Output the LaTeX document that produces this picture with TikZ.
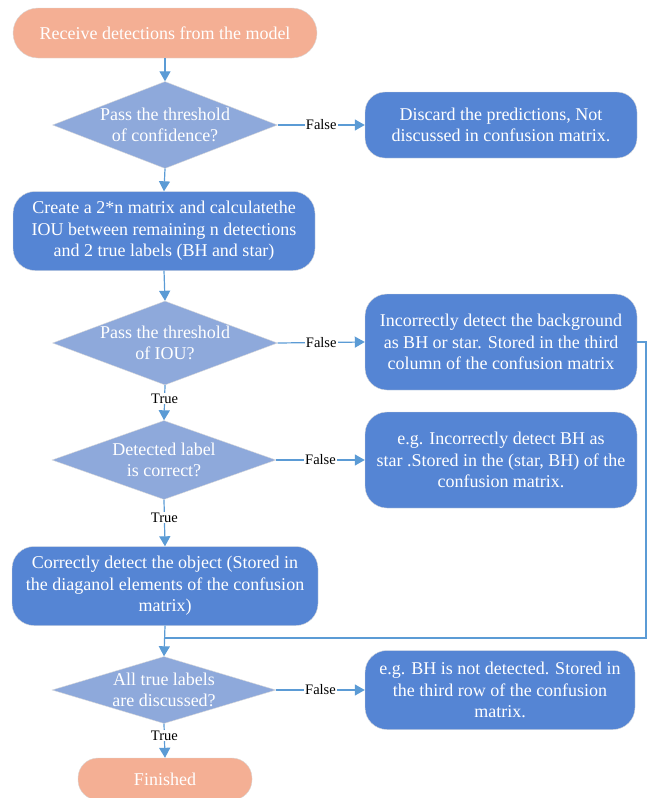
\documentclass[tikz,border=0pt]{standalone}
\usepackage{fontspec}
\setmainfont{Liberation Serif}
\usetikzlibrary{shapes.geometric,arrows.meta}
\definecolor{salmon}{HTML}{F4AF94}
\definecolor{diablue}{HTML}{8EA9DB}
\definecolor{boxblue}{HTML}{5585D4}
\definecolor{arrowblue}{HTML}{5B9BD5}
\tikzset{
  term/.style={fill=salmon, draw=white!85!black, line width=0.4pt, text=white, align=center, font=\fontsize{18}{21.6}\selectfont, inner sep=0pt},
  proc/.style={fill=boxblue, draw=white!85!black, line width=0.4pt, rounded corners=22pt, text=white, align=center, font=\fontsize{18}{21.6}\selectfont, inner sep=0pt},
  dia/.style={diamond, fill=diablue, draw=white!85!black, line width=0.4pt, inner sep=0pt},
  diatext/.style={text=white, align=center, font=\fontsize{18}{20.5}\selectfont, inner sep=0pt},
  conn/.style={draw=arrowblue, line width=1.2pt, -{Triangle[length=10pt,width=11pt]}},
  line/.style={draw=arrowblue, line width=1.2pt},
  lab/.style={fill=white, text=black, font=\fontsize{14.5}{16}\selectfont, inner sep=1pt},
}
\begin{document}
\begin{tikzpicture}[x=1pt,y=-1pt]
\useasboundingbox (0,0) rectangle (647,798);

\node[term, minimum width=304pt, minimum height=50pt, rounded corners=25pt] (start) at (165,33) {Receive detections from the model};

\node[dia, minimum width=225pt, minimum height=87pt] (d1) at (165,125) {};
\node[diatext] (d1t) at (d1.center) {Pass the threshold\\of confidence?};

\node[proc, minimum width=272pt, minimum height=66pt, rounded corners=20pt] (discard) at (501,125) {Discard the predictions, Not\\discussed in confusion matrix.};

\node[proc, minimum width=302pt, minimum height=79pt] (create) at (164,231) {Create a 2*n matrix and calculatethe\\IOU between remaining n detections\\and 2 true labels (BH and star)};

\node[dia, minimum width=225pt, minimum height=84pt] (d2) at (165,343) {};
\node[diatext] (d2t) at (d2.center) {Pass the threshold\\of IOU?};

\node[proc, minimum width=272pt, minimum height=96pt] (bg) at (501,342) {Incorrectly detect the background\\as BH or star. Stored in the third\\column of the confusion matrix};

\node[dia, minimum width=224pt, minimum height=79pt] (d3) at (164,460) {};
\node[diatext] (d3t) at (d3.center) {Detected label\\is correct?};

\node[proc, minimum width=272pt, minimum height=96pt] (wrong) at (501,460) {e.g. Incorrectly detect BH as\\star .Stored in the (star, BH) of the\\confusion matrix.};

\node[proc, minimum width=306pt, minimum height=79pt] (correct) at (165,586) {Correctly detect the object (Stored in\\the diaganol elements of the confusion\\matrix)};

\node[dia, minimum width=224pt, minimum height=67pt] (d4) at (164,690) {};
\node[diatext] (d4t) at (d4.center) {All true labels\\are discussed?};

\node[proc, minimum width=270pt, minimum height=79pt] (missed) at (500,690) {e.g. BH is not detected. Stored in\\the third row of the confusion\\matrix.};

\node[term, minimum width=174pt, minimum height=42pt, rounded corners=20pt] (finish) at (165,779) {Finished};

\coordinate (rc) at (646,638);
\coordinate (mc) at (164,638);

% connectors
\draw[conn] (start.south) -- (d1.north);
\draw[conn] (d1.east) -- node[lab, pos=0.5] {False} (discard.west);
\draw[conn] (d1.south) -- (create.north);
\draw[conn] (create.south) -- (d2.north);
\draw[conn] (d2.east) -- node[lab, pos=0.5] {False} (bg.west);
\draw[conn] (d2.south) -- node[lab, pos=0.38] {True} (d3.north);
\draw[conn] (d3.east) -- node[lab, pos=0.5] {False} (wrong.west);
\draw[conn] (d3.south) -- node[lab, pos=0.38] {True} (correct.north);
\draw[conn] (correct.south) -- (d4.north);
\draw[line] (bg.east) -- (bg.east -| rc) -- (rc) -- (mc);
\draw[conn] (d4.east) -- node[lab, pos=0.5] {False} (missed.west);
\draw[conn] (d4.south) -- node[lab, pos=0.35] {True} (finish.north);
\end{tikzpicture}
\end{document}
